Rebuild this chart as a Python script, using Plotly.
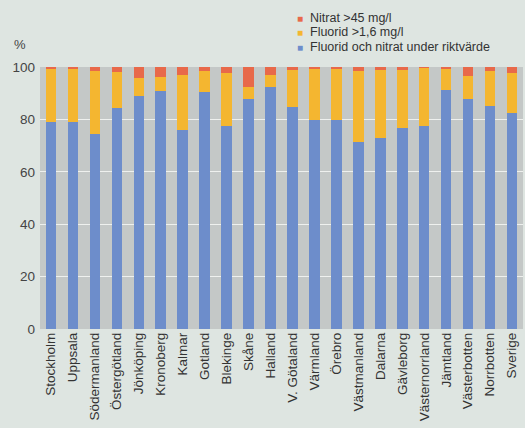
import plotly.graph_objects as go

# Län (counties) plus the national total
lan = ["Stockholm", "Uppsala", "Södermanland", "Östergötland", "Jönköping",
       "Kronoberg", "Kalmar", "Gotland", "Blekinge", "Skåne", "Halland",
       "V. Götaland", "Värmland", "Örebro", "Västmanland", "Dalarna",
       "Gävleborg", "Västernorrland", "Jämtland", "Västerbotten",
       "Norrbotten", "Sverige"]

# Share of wells (%) in each class
under_riktvarde = [79.0, 78.9, 74.3, 84.5, 89.0, 90.9, 76.1, 90.5, 77.4, 87.7, 92.5,
                   84.8, 79.7, 79.8, 71.5, 72.8, 76.9, 77.3, 91.3, 87.9, 85.3, 82.4]
fluorid_over = [20.5, 20.3, 24.3, 13.5, 6.8, 5.4, 21.0, 8.0, 20.3, 4.8, 4.6,
                14.2, 19.8, 19.8, 27.0, 26.2, 22.1, 22.4, 8.3, 8.5, 13.0, 15.2]
nitrat_over = [0.5, 0.8, 1.4, 2.0, 4.2, 3.7, 2.9, 1.5, 2.3, 7.5, 2.9,
               1.0, 0.5, 0.4, 1.5, 1.0, 1.0, 0.3, 0.4, 3.6, 1.7, 2.4]

series = [
    ("Fluorid och nitrat under riktvärde", under_riktvarde, "#6d8dcb"),
    ("Fluorid >1,6 mg/l", fluorid_over, "#f4b630"),
    ("Nitrat >45 mg/l", nitrat_over, "#e8694a"),
]

FONT = "Liberation Sans, Arial"

fig = go.Figure()
for name, vals, col in series:
    fig.add_trace(go.Bar(x=lan, y=vals, name=name, marker_color=col,
                         marker_line_width=0, showlegend=False))

# Legend drawn as text rows, top entry first
legend_rows = list(reversed(series))
row_y = [1.187, 1.132, 1.077]
for (name, _, col), yy in zip(legend_rows, row_y):
    fig.add_annotation(
        text=f'<span style="color:{col};font-size:10px">■</span>  {name}',
        xref="paper", yref="paper", x=0.527, y=yy,
        xanchor="left", yanchor="middle", showarrow=False,
        font=dict(size=12.5, color="#333333", family=FONT))

fig.add_annotation(text="%", xref="paper", yref="paper", x=-0.042, y=1.085,
                   xanchor="center", yanchor="middle", showarrow=False,
                   font=dict(size=13, color="#444444", family=FONT))

fig.update_layout(
    barmode="stack",
    bargap=0.52,
    width=525, height=428,
    margin=dict(l=40, r=2, t=67, b=99),
    paper_bgcolor="#dee5e1",
    plot_bgcolor="#c4c8c7",
    font=dict(family=FONT, size=13.5, color="#3a3a3a"),
)
fig.update_xaxes(tickangle=-90, showgrid=False, ticks="", showline=False,
                 tickfont=dict(size=13.5, color="#333333"))
fig.update_yaxes(range=[0, 100], tickvals=[0, 20, 40, 60, 80, 100],
                 showgrid=True, gridcolor="#eef0ee", gridwidth=1,
                 zeroline=False, ticks="", showline=False,
                 ticklabelstandoff=4,
                 tickfont=dict(size=13.5, color="#444444"))

fig.write_html("out.html")
